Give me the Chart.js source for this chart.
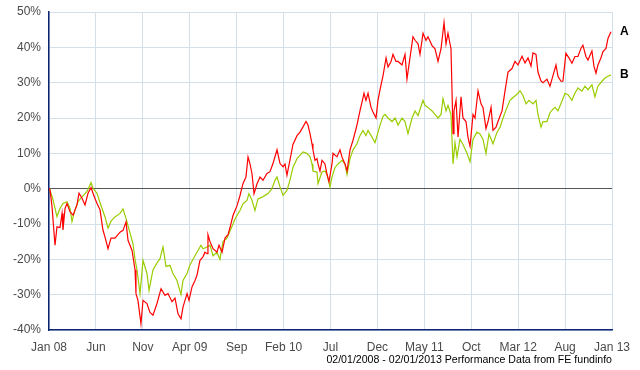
<!DOCTYPE html>
<html>
<head>
<meta charset="utf-8">
<script src="https://cdn.jsdelivr.net/npm/chart.js@4.4.1/dist/chart.umd.min.js"></script>
<style>
html,body{margin:0;padding:0;background:#fff;}
#wrap{width:640px;height:370px;position:relative;}
</style>
</head>
<body>
<div id="wrap"><canvas id="c" width="640" height="370"></canvas></div>
<script>
// x axis: months since 02/01/2008
const tickLabels = ['Jan 08','Jun','Nov','Apr 09','Sep','Feb 10','Jul','Dec','May 11','Oct','Mar 12','Aug','Jan 13'];
const seriesNames = ['A','B'];
const footnote = '02/01/2008 - 02/01/2013 Performance Data from FE fundinfo';

const aMonths = [0.00,0.11,0.32,0.64,0.85,1.17,1.39,1.49,1.71,1.92,2.24,2.56,2.98,3.20,3.52,3.84,4.16,4.48,4.69,4.90,5.12,5.44,5.75,5.97,6.29,6.61,7.03,7.57,7.89,8.21,8.42,8.85,9.17,9.27,9.48,9.80,10.02,10.44,10.76,11.08,11.51,11.94,12.36,12.68,13.11,13.43,13.75,14.07,14.28,14.71,14.92,15.24,15.56,15.77,16.09,16.41,16.62,16.84,16.94,17.16,17.48,17.90,18.12,18.44,18.76,19.08,19.29,19.61,20.04,20.35,20.67,20.99,21.21,21.42,21.63,21.85,22.17,22.49,22.81,23.23,23.55,23.87,24.30,24.62,24.94,25.15,25.36,25.68,26.00,26.43,26.75,27.07,27.39,27.60,27.82,28.03,28.13,28.35,28.56,28.67,28.88,29.09,29.41,29.63,29.84,30.16,30.27,30.69,31.01,31.22,31.54,31.76,32.08,32.40,32.82,33.14,33.36,33.57,33.78,34.00,34.32,34.53,34.85,35.06,35.28,35.60,35.92,36.13,36.45,36.66,36.98,37.20,37.62,37.94,38.15,38.47,38.79,39.01,39.33,39.54,39.86,40.18,40.39,40.82,41.14,41.46,41.78,42.10,42.31,42.52,42.84,43.06,43.16,43.38,43.59,43.91,44.12,44.44,44.65,44.87,45.19,45.40,45.72,46.04,46.25,46.57,46.79,47.11,47.32,47.64,47.85,48.28,48.60,48.92,49.34,49.66,49.98,50.41,50.73,51.05,51.37,51.58,51.90,52.11,52.43,52.65,53.07,53.39,53.71,54.03,54.24,54.56,54.77,55.09,55.41,55.73,56.05,56.37,56.69,56.90,57.22,57.44,57.86,58.08,58.29,58.50,58.82,59.04,59.36,59.57,59.89];
const aValues = [0,-0.4,-5,-16,-10.8,-11,-7,-11.7,-5.6,-4.2,-6.5,-7.5,-4.6,-1.3,-2.7,-4.6,-1.3,0.3,-1.3,-2.8,-4.2,-6,-11.7,-13.7,-17,-14,-14,-12.3,-11.8,-9.4,-14.6,-17.5,-23,-29.7,-31.6,-38.2,-31.6,-32.5,-35,-35.8,-32.5,-28.3,-30.2,-29.7,-32,-31,-35.4,-36.8,-33.5,-29.7,-31.6,-27.8,-26,-24.5,-20.3,-19.3,-18,-18.4,-13,-15,-17,-18,-16,-18,-14,-13,-11,-7.6,-4.8,-2,1.4,3.3,9,7,4.3,-1.4,1.4,3.3,2.4,4.3,4.8,7.1,11,7.1,6.2,7,3.8,8.1,12.5,15,16,17.5,19,18,15.5,12.7,11,8,8.5,7,5,8,7,4,2,7,10,9,11,9,7,5,11,13.7,18,22,24.5,27,25,27,23,21.7,20,25,28,32,37,34.4,36,38,36,36,35,38,31,37,43,42,41,38,44,42,43,40.5,39.6,36,39.6,47,41,44,39.6,15.6,22,25,14.6,26,20,19,14.6,12,21,20,27.7,24,23,17,19,23,16.5,17.4,19,22,27.7,33,34,36,35,37.5,35.6,37,34.7,38.4,38,33,30.5,30,31,29,32,35,31.8,30.4,30.4,38.3,37,35.5,37.4,37.4,39.7,40.6,37.4,36.4,39,34.6,32.7,35,37,38.8,39.7,42.5,44.4];

const bMonths = [0.00,0.11,0.43,0.85,1.17,1.49,1.92,2.24,2.45,2.77,3.09,3.52,4.05,4.48,4.69,5.12,5.44,5.97,6.29,6.61,7.03,7.57,7.89,8.21,8.53,8.95,9.17,9.38,9.70,10.02,10.44,10.66,11.08,11.51,11.83,12.15,12.47,12.89,13.21,13.64,14.07,14.28,14.71,15.03,15.56,15.88,16.20,16.41,16.84,17.16,17.48,17.90,18.22,18.54,18.97,19.29,19.61,19.82,20.35,20.67,21.10,21.31,21.63,21.95,22.27,22.70,23.02,23.34,23.76,24.08,24.30,24.62,24.94,25.36,25.68,26.00,26.43,26.75,27.07,27.49,27.82,28.03,28.13,28.56,28.67,29.09,29.41,29.63,29.95,30.16,30.48,30.80,31.22,31.54,31.76,32.08,32.40,32.82,33.14,33.46,33.78,34.00,34.42,34.74,34.96,35.28,35.60,35.81,36.13,36.56,36.88,37.20,37.62,37.94,38.26,38.69,39.01,39.33,39.86,40.07,40.39,40.82,41.14,41.46,41.78,41.99,42.31,42.52,42.84,43.06,43.27,43.48,43.80,44.12,44.55,44.87,45.19,45.61,45.93,46.25,46.57,46.89,47.32,47.75,48.07,48.39,48.81,49.13,49.45,49.88,50.20,50.52,50.84,51.15,51.58,51.90,52.11,52.43,52.65,53.07,53.39,53.71,53.93,54.24,54.67,54.99,55.31,55.73,56.05,56.37,56.80,57.12,57.44,57.86,58.18,58.50,58.93,59.25,59.57,59.89];
const bValues = [0,-0.4,-3.2,-7.9,-5.6,-4.2,-3.7,-5.6,-9.3,-6,-3.7,-2.3,-0.8,1.7,0.1,-1.3,-4,-8,-11.2,-9.2,-8,-7,-5.7,-8.5,-11.5,-15.6,-20,-23,-29.7,-20.3,-24,-28.8,-23,-21,-19.8,-16.5,-22,-21.7,-24,-26,-30,-26,-24,-21.5,-19,-17.5,-16,-17,-16.5,-16,-19,-18,-20,-15,-14,-12,-10,-8.6,-6.2,-4.3,-3.3,-1.4,-3.3,-6.2,-2.9,-2.4,-1.9,-1.4,0,2.4,3.3,0.5,-1.9,-0.5,2.4,6,8.5,9.4,10.4,10,9,7,5,4.7,1.4,4.7,5,4,0.5,3.3,6,7,8,7,4,8.5,11,12.7,15,16.5,15,16.5,14.6,13,15,18,20.5,21,20,19,20,18,20,19,15.6,20,22,20.7,25,23.6,23,22,21,20,21,25.5,22,23.6,21,7,13,9,14,12.5,10,7.6,14,16,15.5,14,10,15.5,12.7,16,17.4,20,23,25,25.8,26.7,27.7,26.3,24,25,24,25,21,17.4,19,19,21.5,22.5,23,22,24.8,27,26.6,25,27,28.5,27.6,29,28,29.4,26,29,30.4,31.3,31.8,32.2];

const toPts = (xs, ys) => xs.map((x, i) => ({x: x, y: ys[i]}));
const FONT = '"Liberation Sans", Arial, sans-serif';

const endLabels = {
  id: 'endLabels',
  afterDraw(chart) {
    const ctx = chart.ctx;
    const ys = chart.scales.y;
    ctx.save();
    ctx.font = 'bold 12px ' + FONT;
    ctx.fillStyle = '#000';
    ctx.textBaseline = 'middle';
    ctx.textAlign = 'left';
    chart.data.datasets.forEach(ds => {
      const last = ds.data[ds.data.length - 1];
      ctx.fillText(ds.label, chart.chartArea.right + 8, ys.getPixelForValue(last.y));
    });
    ctx.font = '10.6px ' + FONT;
    ctx.fillStyle = '#000';
    ctx.textAlign = 'right';
    ctx.fillText(footnote, chart.chartArea.right, 360);
    ctx.restore();
  }
};

new Chart(document.getElementById('c'), {
  type: 'line',
  data: {
    datasets: [
      {label: seriesNames[0], data: toPts(aMonths, aValues), borderColor: '#ff0000', borderWidth: 1.2, pointRadius: 0, tension: 0, order: 1},
      {label: seriesNames[1], data: toPts(bMonths, bValues), borderColor: '#99cc00', borderWidth: 1.2, pointRadius: 0, tension: 0, order: 2}
    ]
  },
  options: {
    responsive: false,
    animation: false,
    layout: {padding: {left: 0, right: 28, top: 12, bottom: 0}},
    plugins: {legend: {display: false}, tooltip: {enabled: false}},
    scales: {
      x: {
        type: 'linear', min: 0, max: 60,
        afterFit(s) { s.height = 40; s.paddingLeft = 0; s.paddingRight = 0; },
        afterBuildTicks(s) { s.ticks = tickLabels.map((t, i) => ({value: i * 5})); },
        ticks: {
          autoSkip: false, maxRotation: 0, padding: 10,
          color: '#4a4a4a', font: {family: FONT, size: 12},
          callback: (v) => tickLabels[Math.round(v / 5)]
        },
        grid: {color: '#d3e0ea', drawTicks: false, lineWidth: 1},
        border: {color: '#0d2470', width: 1.5}
      },
      y: {
        min: -40, max: 50,
        afterFit(s) { s.width = 49; s.paddingTop = 0; s.paddingBottom = 0; },
        ticks: {
          stepSize: 10, padding: 8,
          color: '#4a4a4a', font: {family: FONT, size: 12},
          callback: (v) => v + '%'
        },
        grid: {
          drawTicks: false, lineWidth: 1,
          color: (c) => (c.tick && c.tick.value === 0) ? '#555555' : '#d3e0ea'
        },
        border: {color: '#0d2470', width: 1.5}
      }
    }
  },
  plugins: [endLabels]
});
</script>
</body>
</html>
